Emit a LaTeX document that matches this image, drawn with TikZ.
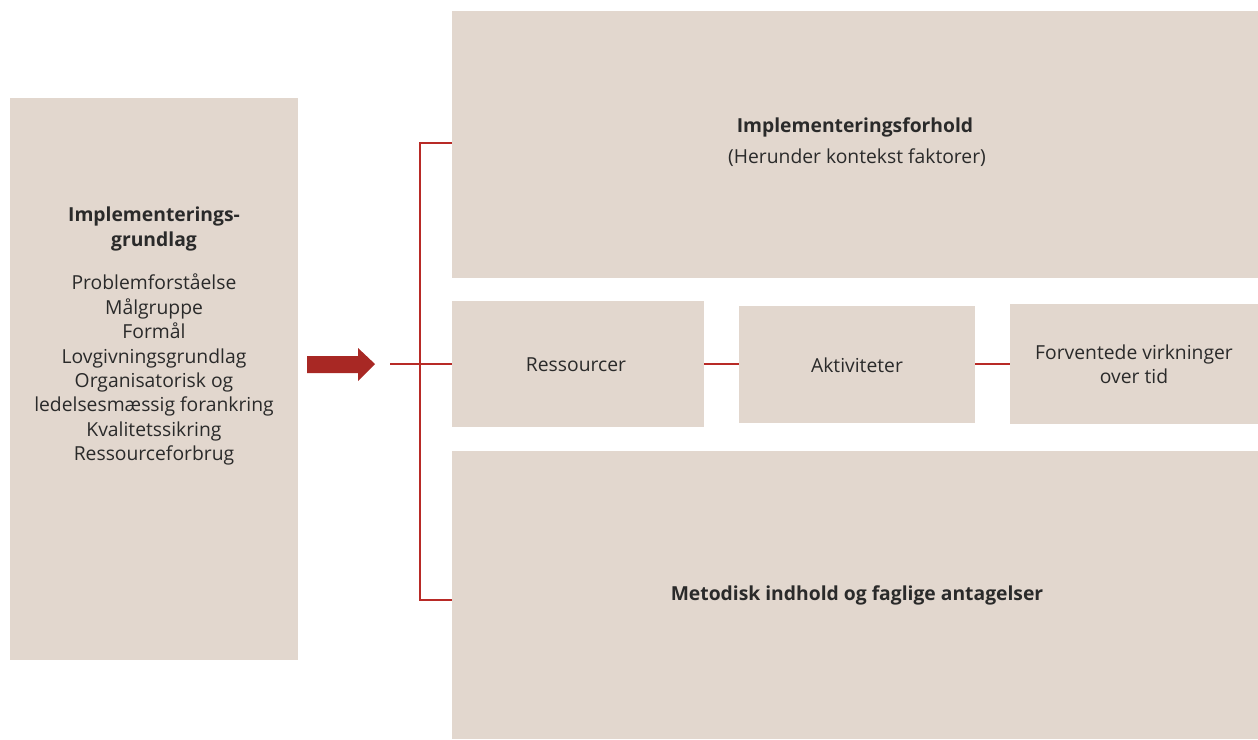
\documentclass[tikz,border=0pt]{standalone}
\usepackage{fontspec}
\setmainfont{Open Sans}
\begin{document}
\begin{tikzpicture}[x=1pt,y=-1pt,
  box/.style={draw=none,fill=boxfill,inner sep=0pt,outer sep=0pt},
  txt/.style={align=center,inner sep=0pt,font=\fontsize{19.3}{24.4}\selectfont,text=textcol},
  btxt/.style={txt,font=\fontsize{19.3}{24.4}\selectfont\bfseries},
  redline/.style={draw=linered,line width=1.2pt}]
\definecolor{boxfill}{HTML}{E2D7CE}
\definecolor{linered}{HTML}{B82A26}
\definecolor{arrowred}{HTML}{A82824}
\definecolor{textcol}{HTML}{2A2A2A}
\useasboundingbox (0,0) rectangle (1258,739);
% boxes
\node[box,minimum width=288pt,minimum height=562pt] (left) at (154,379) {};
\node[box,minimum width=806pt,minimum height=267pt] (top) at (855,144.5) {};
\node[box,minimum width=252pt,minimum height=126pt] (res) at (578,364) {};
\node[box,minimum width=236pt,minimum height=117pt] (akt) at (857,364.5) {};
\node[box,minimum width=248pt,minimum height=120pt] (forv) at (1134,364) {};
\node[box,minimum width=806pt,minimum height=288pt] (bot) at (855,595) {};
% texts
\node[btxt] (lt) at (154,229) {Implementerings-\\grundlag};
\node[txt,anchor=north] (ll) at (154,274) {Problemforståelse\\Målgruppe\\Formål\\Lovgivningsgrundlag\\Organisatorisk og\\ledelsesmæssig forankring\\Kvalitetssikring\\Ressourceforbrug};
\node[btxt] (tt) at (855,127) {Implementeringsforhold};
\node[txt] (ts) at (857,158) {(Herunder kontekst faktorer)};
\node[txt] (rt) at (576,365) {Ressourcer};
\node[txt] (at) at (857,365) {Aktiviteter};
\node[txt] (ft) at (1134,364) {Forventede virkninger\\over tid};
\node[btxt] (bt) at (857,595) {Metodisk indhold og faglige antagelser};
% connectors
\coordinate (bx) at (420,364);
\coordinate (astart) at (390,364);
\draw[redline] (top.west |- 0,143) -- (bx |- 0,143) -- (bx |- 0,600) -- (bot.west |- 0,600);
\draw[redline] (astart) -- (res.west);
\draw[redline] (res.east) -- (res.east -| akt.west);
\draw[redline] (res.east -| akt.east) -- (res.east -| forv.west);
% arrow
\coordinate (tip) at (375,364);
\fill[arrowred] (307,356) -- (358,356) -- (358,348) -- (tip) -- (358,381) -- (358,373) -- (307,373) -- cycle;
\end{tikzpicture}
\end{document}
